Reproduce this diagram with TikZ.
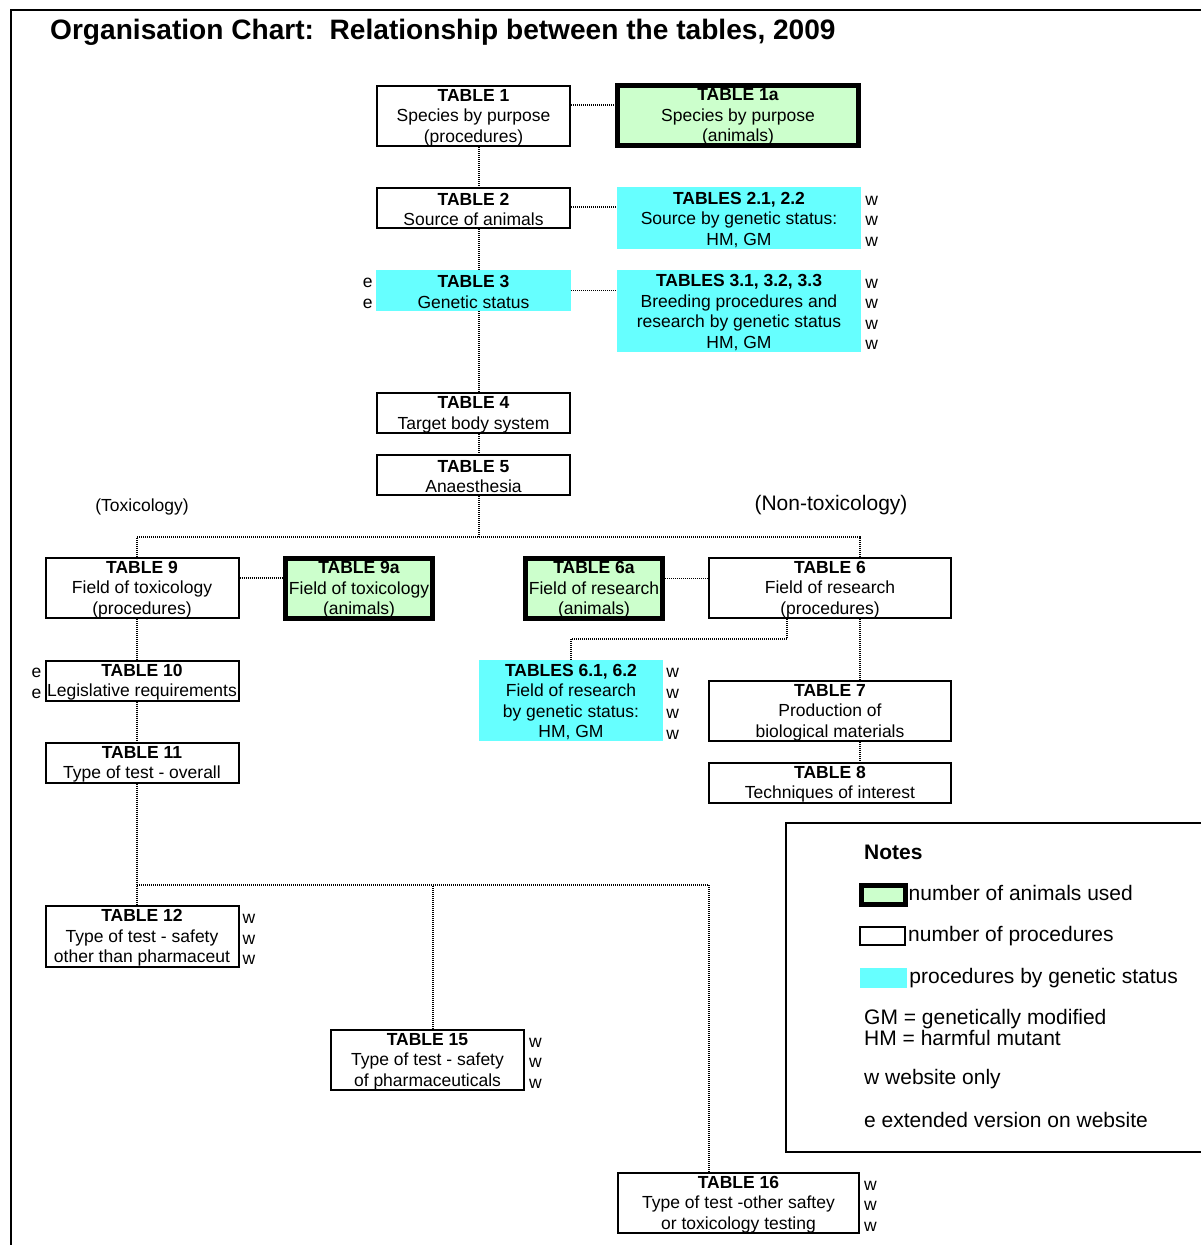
\documentclass[tikz,border=0pt]{standalone}
\usepackage{fontspec}
\setmainfont{Liberation Sans}
\usepackage{xcolor}
\usepackage{tikz}
\usetikzlibrary{positioning,calc}

\definecolor{animgreen}{HTML}{CCFFCC}
\definecolor{gscyan}{HTML}{66FFFF}
\newcommand{\tblfont}{\fontsize{17.5}{20.5}\selectfont}
\newcommand{\notesfont}{\fontsize{21}{21}\selectfont}
\newcommand{\tblhead}[1]{\textbf{\rule{0pt}{15.5pt}#1}}

\tikzset{
    procbox/.style={draw, line width=2pt, fill=white, inner sep=0pt, align=center, font=\tblfont},
    animbox/.style={draw, line width=5pt, fill=animgreen, inner sep=0pt, align=center, font=\tblfont},
    gsbox/.style={fill=gscyan, inner sep=0pt, align=center, font=\tblfont},
    flag/.style={inner sep=0pt, align=left, font=\tblfont},
    link/.style={line width=1.5pt, dash pattern=on 1pt off 1pt},
    notetext/.style={anchor=west, inner sep=0pt, align=left, font=\notesfont}
}

\begin{document}
\begin{tikzpicture}[x=1pt, y=-1pt]
    \useasboundingbox (0,0) rectangle (1200,1245);
    % frame
    \draw[line width=2pt] (11,1250) -- (11,10) -- (1205,10);
    \node[anchor=west, inner sep=0pt, font=\fontsize{28.1}{30}\selectfont\bfseries] (title) at (50,32) {Organisation Chart:\ \ Relationship between the tables, 2009};

    % main column
    \node[procbox, minimum width=193pt, minimum height=60pt] (t1) at (473.5,116) {\tblhead{TABLE 1}\\Species by purpose\\(procedures)};
    \node[animbox, minimum width=241pt, minimum height=60pt] (t1a) at (738,115.5) {\tblhead{TABLE 1a}\\Species by purpose\\(animals)};
    \node[procbox, minimum width=193pt, minimum height=40pt] (t2) at (473.5,208) {\tblhead{TABLE 2}\\Source of animals};
    \node[gsbox, minimum width=244pt, minimum height=62pt] (t21) at (739,218) {\tblhead{TABLES 2.1, 2.2}\\Source by genetic status:\\HM, GM};
    \node[gsbox, minimum width=195pt, minimum height=41pt] (t3) at (473.5,290.5) {\tblhead{TABLE 3}\\Genetic status};
    \node[gsbox, minimum width=244pt, minimum height=82pt] (t3x) at (739,311) {\tblhead{TABLES 3.1, 3.2, 3.3}\\Breeding procedures and\\research by genetic status\\HM, GM};
    \node[procbox, minimum width=193pt, minimum height=40pt] (t4) at (473.5,413) {\tblhead{TABLE 4}\\Target body system};
    \node[procbox, minimum width=193pt, minimum height=40pt] (t5) at (473.5,475) {\tblhead{TABLE 5}\\Anaesthesia};

    \node[flag, right=4pt of t21] (t21w) {\rule{0pt}{15.5pt}w\\w\\w};
    \node[flag, right=4pt of t3x] (t3xw) {\rule{0pt}{15.5pt}w\\w\\w\\w};
    \node[flag, left=3pt of t3] (t3e) {\rule{0pt}{15.5pt}e\\e};

    \draw[link] ([yshift=11pt]t1.east) -- ([yshift=11pt]t1.east -| t1a.west);
    \draw[link] ([yshift=1pt]t2.east) -- ([yshift=1pt]t2.east -| t21.west);
    \draw[link] (t3.east) -- (t3.east -| t3x.west);
    \draw[link] ([xshift=5.5pt]t1.south) -- ([xshift=5.5pt]t2.north);
    \draw[link] ([xshift=5.5pt]t2.south) -- ([xshift=5.5pt]t3.north);
    \draw[link] ([xshift=5.5pt]t3.south) -- ([xshift=5.5pt]t4.north);
    \draw[link] ([xshift=5.5pt]t4.south) -- ([xshift=5.5pt]t5.north);

    % toxicology / non-toxicology
    \node[font=\tblfont] (toxlabel) at (142,506.5) {(Toxicology)};
    \node[font=\fontsize{21}{21}\selectfont] (nontoxlabel) at (831,505.5) {(Non-toxicology)};
    \coordinate (fieldsplit) at (479,537);

    \node[procbox, minimum width=193pt, minimum height=60pt] (t9) at (142,588) {\tblhead{TABLE 9}\\Field of toxicology\\(procedures)};
    \node[animbox, minimum width=147pt, minimum height=60pt] (t9a) at (359,588.5) {\tblhead{TABLE 9a}\\Field of toxicology\\(animals)};
    \node[animbox, minimum width=137pt, minimum height=60pt] (t6a) at (594,588.5) {\tblhead{TABLE 6a}\\Field of research\\(animals)};
    \node[procbox, minimum width=242pt, minimum height=60pt] (t6) at (830,588) {\tblhead{TABLE 6}\\Field of research\\(procedures)};

    \draw[link] ([xshift=5.5pt]t5.south) -- (fieldsplit);
    \draw[link] ([xshift=-5pt]t9.north) |- (fieldsplit) -| ([xshift=30pt]t6.north);
    \draw[link] ([yshift=10pt]t9.east) -- ([yshift=10pt]t9.east -| t9a.west);
    \draw[link] ([yshift=10pt]t6a.east) -- ([yshift=10pt]t6a.east -| t6.west);

    % research branch
    \node[gsbox, minimum width=184pt, minimum height=81pt] (t61) at (571,700.5) {\tblhead{TABLES 6.1, 6.2}\\Field of research\\by genetic status:\\HM, GM};
    \node[flag, right=3pt of t61] (t61w) {\rule{0pt}{15.5pt}w\\w\\w\\w};
    \node[procbox, minimum width=242pt, minimum height=60pt] (t7) at (830,711) {\tblhead{TABLE 7}\\Production of\\biological materials};
    \node[procbox, minimum width=242pt, minimum height=40pt] (t8) at (830,782.5) {\tblhead{TABLE 8}\\Techniques of interest};
    \coordinate (resbend) at (571,639);

    \draw[link] ([xshift=-43pt]t6.south) |- (resbend) -- (t61.north);
    \draw[link] ([xshift=30pt]t6.south) -- ([xshift=30pt]t7.north);
    \draw[link] ([xshift=30pt]t7.south) -- ([xshift=30pt]t8.north);

    % toxicology branch
    \node[procbox, minimum width=193pt, minimum height=40pt] (t10) at (142,680.5) {\tblhead{TABLE 10}\\Legislative requirements};
    \node[flag, left=3pt of t10] (t10e) {\rule{0pt}{15.5pt}e\\e};
    \node[procbox, minimum width=193pt, minimum height=40pt] (t11) at (142,762.5) {\tblhead{TABLE 11}\\Type of test - overall};
    \draw[link] ([xshift=-5pt]t9.south) -- ([xshift=-5pt]t10.north);
    \draw[link] ([xshift=-5pt]t10.south) -- ([xshift=-5pt]t11.north);

    \node[procbox, minimum width=193pt, minimum height=60pt] (t12) at (142,936.5) {\tblhead{TABLE 12}\\Type of test - safety\\other than pharmaceut};
    \node[flag, right=3pt of t12] (t12w) {\rule{0pt}{15.5pt}w\\w\\w};
    \node[procbox, minimum width=193pt, minimum height=60pt] (t15) at (427.5,1060) {\tblhead{TABLE 15}\\Type of test - safety\\of pharmaceuticals};
    \node[flag, right=4pt of t15] (t15w) {\rule{0pt}{15.5pt}w\\w\\w};
    \node[procbox, minimum width=241pt, minimum height=60pt] (t16) at (738.5,1203) {\tblhead{TABLE 16}\\Type of test -other saftey\\or toxicology testing};
    \node[flag, right=4pt of t16] (t16w) {\rule{0pt}{15.5pt}w\\w\\w};
    \coordinate (testsplit) at (137,885);

    \draw[link] ([xshift=-5pt]t11.south) -- ([xshift=-5pt]t12.north);
    \draw[link] (testsplit) -| ([xshift=-29.5pt]t16.north);
    \draw[link] ([xshift=5.5pt]t15.north) -- ([xshift=5.5pt]t15.north |- testsplit);

    % notes
    \draw[line width=2pt] (1210,823) -- (786,823) -- (786,1152) -- (1210,1152);
    \node[notetext, font=\notesfont\bfseries] (notestitle) at (864,852) {Notes};
    \node[animbox, minimum width=44pt, minimum height=19pt] (keyanim) at (883,895) {};
    \node[notetext, right=1pt of keyanim, yshift=2pt] (keyanimtext) {number of animals used};
    \node[procbox, minimum width=45pt, minimum height=18pt] (keyproc) at (882.5,936) {};
    \node[notetext, right=2pt of keyproc] (keyproctext) {number of procedures};
    \node[gsbox, minimum width=47pt, minimum height=20pt] (keygs) at (883.5,978) {};
    \node[notetext, right=2pt of keygs] (keygstext) {procedures by genetic status};
    \node[notetext, font=\fontsize{21}{21}\selectfont] (keyabbr) at (864,1027.5) {GM = genetically modified\\HM = harmful mutant};
    \node[notetext] (keyw) at (864,1079) {w website only};
    \node[notetext] (keye) at (864,1120) {e extended version on website};
\end{tikzpicture}
\end{document}
